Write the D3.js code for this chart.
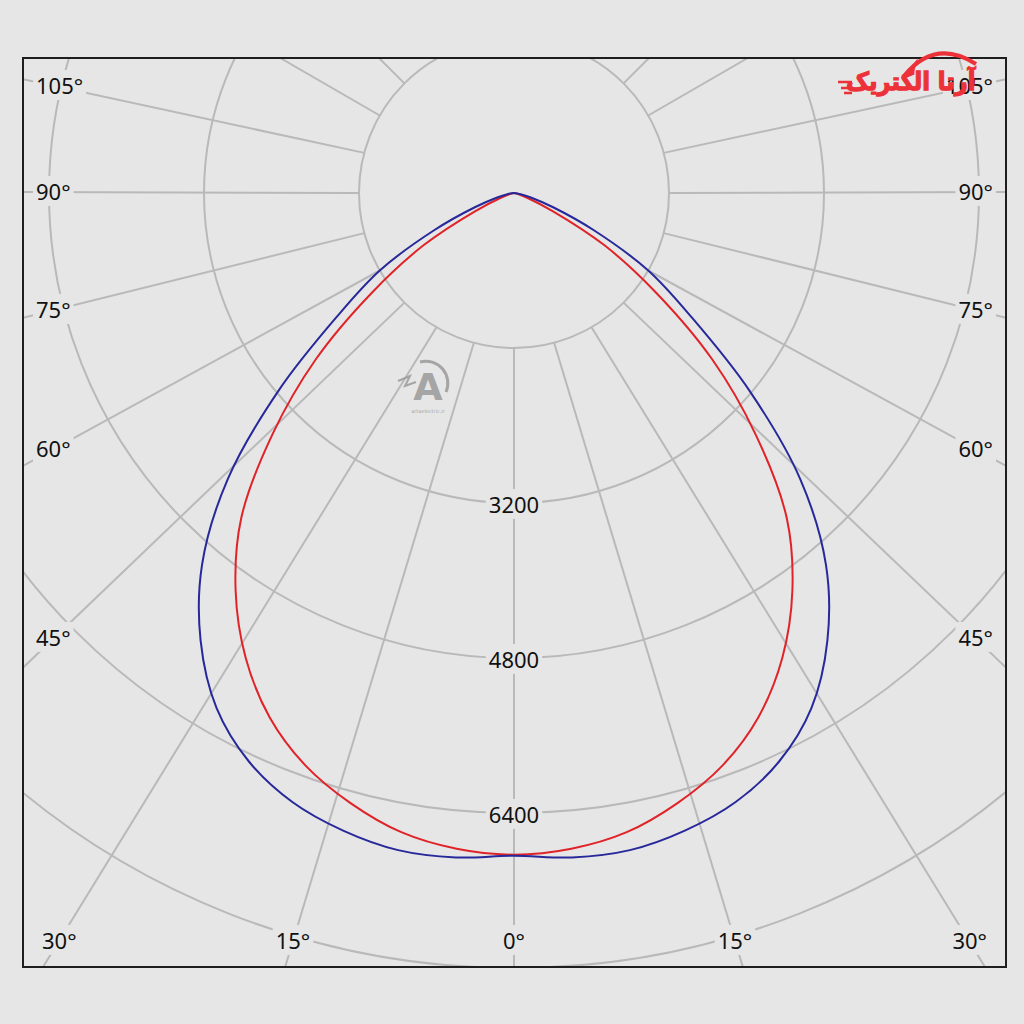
<!DOCTYPE html>
<html><head><meta charset="utf-8">
<script src="https://cdn.jsdelivr.net/npm/d3@7"></script>
<style>html,body{margin:0;padding:0;background:#e6e6e6}</style>
</head><body>
<svg id="c" width="1024" height="1024"></svg>
<script>
// ---- data ----
const polarAngles = [0,5,10,15,20,25,30,35,40,45,50,55,60,65,70,75,80,85,90];
const planeC0  = [6840,6885,6888,6814,6690,6475,6140,5640,5010,4180,3170,2240,1600,910,430,180,70,20,0];
const planeC90 = [6830,6795,6700,6520,6290,5970,5540,5010,4380,3530,2670,1785,1075,440,150,50,15,5,0];
const ringValues = [1600,3200,4800,6400,8000];
const ringLabelValues = [3200,4800,6400];
const angleTicks = [0,15,30,45,60,75,90,105];
const angleTickLabels = ["0°","15°","30°","45°","60°","75°","90°","105°"];
const extraRays = [120,135,150,165,180];

// ---- layout ----
const BG = "#e6e6e6", GRID = "#b9b9b9";
const cx = 514, cy = 193;
const frame = {x0:23, y0:58, x1:1006, y1:967};
const r = d3.scaleLinear().domain([0,8000]).range([0,775]);
const rad = d => d*Math.PI/180;
const bottomY = 941;
function labelAnchor(a, s){
  if (a===0) return {x:cx, y:bottomY};
  if (a===15) return {x:cx + s*221, y:bottomY};
  if (a===30) return {x:cx + s*455, y:bottomY};
  const ys = {45:638, 60:449, 75:310, 90:192, 105:86};
  return {x: s<0 ? 54 : 975, y: ys[a]};
}

const svg = d3.select("#c");
svg.append("rect").attr("width",1024).attr("height",1024).attr("fill",BG);

svg.append("clipPath").attr("id","fc").append("rect")
  .attr("x",frame.x0).attr("y",frame.y0).attr("width",frame.x1-frame.x0).attr("height",frame.y1-frame.y0);

const grid = svg.append("g").attr("clip-path","url(#fc)");

grid.selectAll("circle.ring").data(ringValues).join("circle")
  .attr("class","ring").attr("cx",cx).attr("cy",cy).attr("r",d=>r(d))
  .attr("fill","none").attr("stroke",GRID).attr("stroke-width",2);

function toFrame(p, d){
  let ts=[];
  if (d.x>1e-9) ts.push((frame.x1-p.x)/d.x);
  if (d.x<-1e-9) ts.push((frame.x0-p.x)/d.x);
  if (d.y>1e-9) ts.push((frame.y1-p.y)/d.y);
  if (d.y<-1e-9) ts.push((frame.y0-p.y)/d.y);
  const t = Math.min(...ts.filter(t=>t>0));
  return {x:p.x+d.x*t, y:p.y+d.y*t};
}
const r0 = r(ringValues[0]);
const rays = [];
angleTicks.forEach((a,i)=>{
  (a===0?[1]:[-1,1]).forEach(s=>{
    const th = rad(a)*s;
    const p0 = {x:cx + r0*Math.sin(th), y:cy + r0*Math.cos(th)};
    const L = labelAnchor(a, s);
    let d = {x:L.x-p0.x, y:L.y-p0.y};
    const n = Math.hypot(d.x,d.y); d = {x:d.x/n, y:d.y/n};
    rays.push({p0, p1:toFrame(p0,d), label:angleTickLabels[i], L, side:s, a});
  });
});
extraRays.forEach(a=>{
  [-1,1].forEach(s=>{
    const th = rad(a)*s;
    const d = {x:Math.sin(th), y:Math.cos(th)};
    const p0 = {x:cx + r0*d.x, y:cy + r0*d.y};
    if (p0.y < frame.y0) return;
    rays.push({p0, p1:toFrame(p0,d)});
  });
});
grid.selectAll("line.ray").data(rays).join("line").attr("class","ray")
  .attr("x1",d=>d.p0.x).attr("y1",d=>d.p0.y).attr("x2",d=>d.p1.x).attr("y2",d=>d.p1.y)
  .attr("stroke",GRID).attr("stroke-width",2);

const FONT = "'Noto Sans', 'Open Sans', sans-serif";
function boxedText(g, x, y, txt, anchor){
  const gg = g.append("g");
  const t = gg.append("text").attr("x",x).attr("y",y).attr("dy","0.36em")
    .attr("text-anchor",anchor).attr("font-family",FONT).attr("font-size",22)
    .attr("fill","#111").text(txt);
  const b = t.node().getBBox();
  gg.insert("rect","text").attr("x",b.x-3).attr("y",b.y).attr("width",b.width+6).attr("height",b.height).attr("fill",BG);
}
const labels = svg.append("g");
rays.filter(d=>d.label).forEach(d=>{
  let anchor="middle", x=d.L.x;
  if (d.a>=45 || d.a===30){
    if (d.side<0){ anchor="start"; x = d.a===30 ? 42 : 36; }
    else { anchor="end"; x = d.a===30 ? 987 : 993; }
  }
  boxedText(labels, x, d.L.y, d.label, anchor);
});
ringLabelValues.forEach(v=>{
  boxedText(labels, cx, cy + r(v) + 2, String(v), "middle");
});

// curves
function fullCurve(vals){
  const pts = [];
  for (let i=polarAngles.length-1;i>=0;i--) pts.push({a:Math.PI + rad(polarAngles[i]), v:vals[i]});
  for (let i=1;i<polarAngles.length;i++) pts.push({a:Math.PI - rad(polarAngles[i]), v:vals[i]});
  return pts;
}
const lr = d3.lineRadial().angle(d=>d.a).radius(d=>r(d.v)).curve(d3.curveCatmullRom);
const cg = svg.append("g").attr("transform",`translate(${cx},${cy})`);
cg.append("path").attr("d",lr(fullCurve(planeC90))).attr("fill","none").attr("stroke","#e02328").attr("stroke-width",2);
cg.append("path").attr("d",lr(fullCurve(planeC0))).attr("fill","none").attr("stroke","#27289a").attr("stroke-width",2);

// frame
svg.append("rect").attr("x",frame.x0).attr("y",frame.y0).attr("width",frame.x1-frame.x0).attr("height",frame.y1-frame.y0)
  .attr("fill","none").attr("stroke","#1e1e1e").attr("stroke-width",2);

// watermark
const wm = svg.append("g").attr("opacity",0.85);
wm.append("path").attr("d","M 420 362 A 22 22 0 0 1 446 392").attr("fill","none").attr("stroke","#9a9a9a").attr("stroke-width",3);
wm.append("text").attr("x",428).attr("y",400).attr("text-anchor","middle").attr("font-family","'DejaVu Sans',sans-serif")
  .attr("font-weight","bold").attr("font-size",38).attr("fill","#9a9a9a").text("A");
wm.append("path").attr("d","M 398 381 L 410 376 L 405 386 L 416 382").attr("fill","none").attr("stroke","#9a9a9a").attr("stroke-width",2);
wm.append("text").attr("x",428).attr("y",413).attr("text-anchor","middle").attr("font-family","'DejaVu Sans',sans-serif")
  .attr("font-size",5).attr("fill","#9a9a9a").text("artaelectric.ir");

// logo
const lg = svg.append("g");
lg.append("path").attr("d","M 904 76 Q 935 38 976 64").attr("fill","none").attr("stroke","#ec3238").attr("stroke-width",4);
lg.append("path").attr("d","M 902 78 L 918 58 L 914 72 Z").attr("fill","#ec3238");
const lt = lg.append("text").attr("x",0).attr("y",0).attr("font-family","'DejaVu Sans',sans-serif")
  .attr("font-weight","bold").attr("font-size",30).attr("fill","#ec3238")
  .attr("stroke","#ec3238").attr("stroke-width",1.5).text("آرتا الکتریک");
const lb = lt.node().getBBox();
const sx = 130/lb.width, sy = 30/lb.height;
lt.attr("transform",`translate(${976 - (lb.x+lb.width)*sx},${96 - (lb.y+lb.height)*sy}) scale(${sx},${sy})`);
[82,88,93].forEach((y,i)=>lg.append("line").attr("x1",838+i*3).attr("x2",852).attr("y1",y).attr("y2",y)
  .attr("stroke","#ec3238").attr("stroke-width",2.5));
</script>
</body></html>
